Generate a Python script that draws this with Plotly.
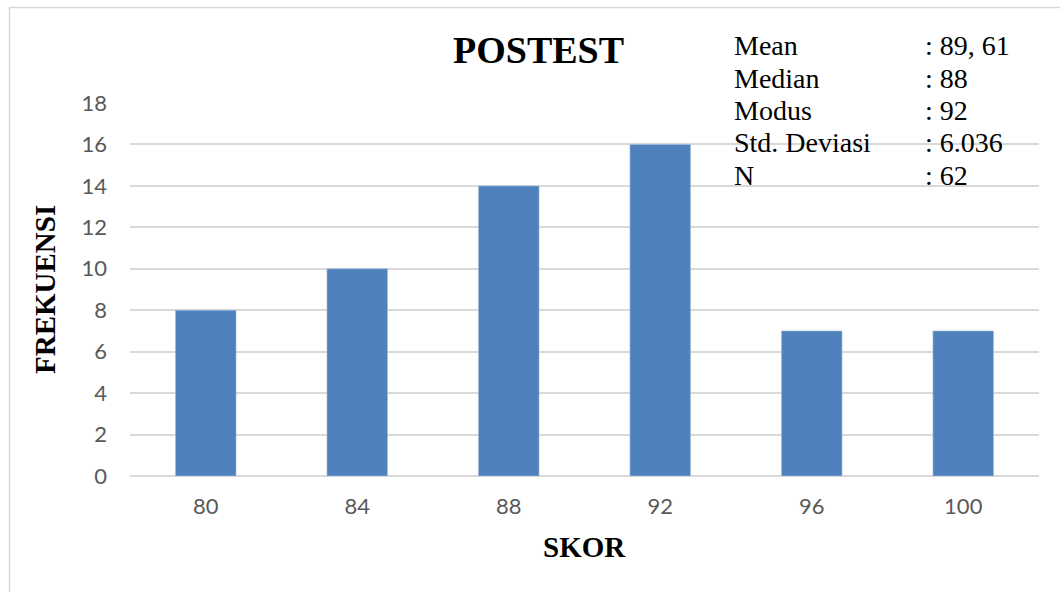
import plotly.graph_objects as go

skor = ["80", "84", "88", "92", "96", "100"]
frekuensi = [8, 10, 14, 16, 7, 7]
y_ticks = [0, 2, 4, 6, 8, 10, 12, 14, 16, 18]
stat_labels = ["Mean", "Median", "Modus", "Std. Deviasi", "N"]
stat_values = [": 89, 61", ": 88", ": 92", ": 6.036", ": 62"]

W, H = 1060, 592
L, R, T, B = 130, 21, 103, 116
PW, PH = W - L - R, H - T - B

def px(x):
    return (x - L) / PW

def py(y):
    return (H - B - y) / PH

fig = go.Figure()
fig.add_trace(go.Bar(
    x=skor, y=frekuensi, width=0.4,
    marker=dict(color="#4F81BD", line=dict(color="#A7BFDE", width=0.6)),
    showlegend=False, hoverinfo="x+y",
))

serif = "Liberation Serif, Times New Roman, serif"
ann = []
ann.append(dict(text="<b>POSTEST</b>", x=px(538), y=py(50), xref="paper", yref="paper",
                xanchor="center", yanchor="middle", showarrow=False,
                font=dict(family=serif, size=38, color="#000000")))
ann.append(dict(text="<b>SKOR</b>", x=px(584), y=py(547), xref="paper", yref="paper",
                xanchor="center", yanchor="middle", showarrow=False,
                font=dict(family=serif, size=29, color="#000000")))
ann.append(dict(text="<b>FREKUENSI</b>", x=px(45), y=py(290), xref="paper", yref="paper",
                xanchor="center", yanchor="middle", showarrow=False, textangle=-90,
                font=dict(family=serif, size=29, color="#000000")))
for i, (lab, val) in enumerate(zip(stat_labels, stat_values)):
    yy = 46 + i * 32.3
    ann.append(dict(text=lab, x=px(732), y=py(yy), xref="paper", yref="paper",
                    xanchor="left", yanchor="middle", showarrow=False,
                    font=dict(family=serif, size=28, color="#000000")))
    ann.append(dict(text=val, x=px(923), y=py(yy), xref="paper", yref="paper",
                    xanchor="left", yanchor="middle", showarrow=False,
                    font=dict(family=serif, size=28, color="#000000")))

fig.update_layout(
    width=W, height=H,
    margin=dict(l=L, r=R, t=T, b=B, pad=0),
    paper_bgcolor="#FFFFFF", plot_bgcolor="#FFFFFF",
    annotations=ann,
    bargap=0.6,
    shapes=[dict(type="rect", xref="paper", yref="paper",
                 x0=px(9.5), x1=px(1070), y0=py(610), y1=py(7.5),
                 line=dict(color="#D9D9D9", width=1.5), layer="below")],
    xaxis=dict(showgrid=False, showline=False, zeroline=False, ticks="",
               tickfont=dict(family="Lato, Carlito, sans-serif", size=22, color="#595959"),
               ticklabelstandoff=15),
    yaxis=dict(range=[0, 18], tickvals=y_ticks, showgrid=True, gridcolor="#D9D9D9",
               gridwidth=2, zeroline=True, zerolinecolor="#D9D9D9", zerolinewidth=2,
               showline=False, ticks="",
               tickfont=dict(family="Lato, Carlito, sans-serif", size=22, color="#595959"),
               ticklabelstandoff=22),
)

fig.write_html("out.html", config={"displayModeBar": False},
               post_script="document.body.style.margin='0';document.body.style.overflow='hidden';")
